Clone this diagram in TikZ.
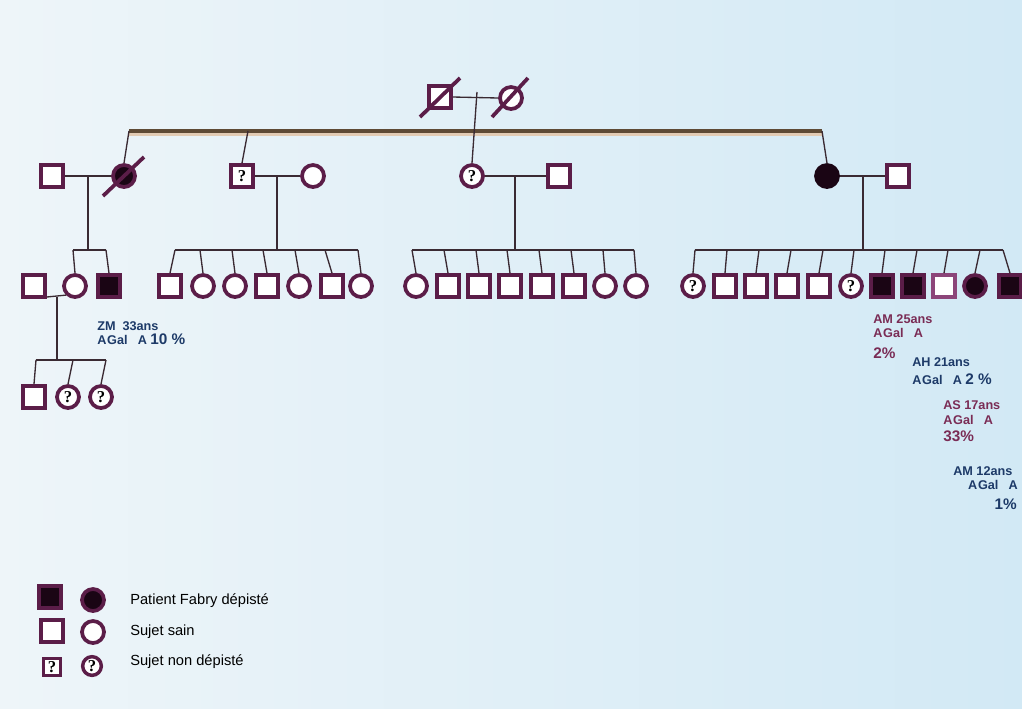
\documentclass[tikz,border=0pt]{standalone}
\usepackage{fontspec}
\setmainfont{Liberation Sans}
\newfontfamily\qfont{Liberation Serif}
\definecolor{plum}{HTML}{5B1D48}
\definecolor{plumlight}{HTML}{8C4579}
\definecolor{ink}{HTML}{1A0514}
\definecolor{linecol}{HTML}{3A2A33}
\definecolor{bar}{HTML}{5E4A35}
\definecolor{barshade}{HTML}{E2CBB4}
\definecolor{navy}{HTML}{1D3A68}
\definecolor{wine}{HTML}{7A2C55}
\definecolor{bgleft}{HTML}{EEF5F9}
\definecolor{bgmid}{HTML}{FAFCFD}
\definecolor{bgright}{HTML}{D2E9F5}
\newcommand\bigpct[1]{{\fontsize{11.5}{13}\selectfont #1}}
\newcommand\agal{A\kern0.6pt Gal\hspace{0.8em}A}
\tikzset{
  person/.style={draw=plum, line width=2.8pt, fill=white, inner sep=0pt, minimum size=16.5pt},
  male/.style={person, rectangle},
  female/.style={person, circle},
  fmale/.style={male, fill=ink},
  ffemale/.style={female, fill=ink},
  lmale/.style={male, draw=plumlight},
  qmark/.style={font=\qfont\bfseries\fontsize{12.5}{12.5}\selectfont, inner sep=0pt, text=black},
  qmale/.style={male, label={[qmark]center:?}},
  qfemale/.style={female, label={[qmark]center:?}},
  link/.style={draw=linecol, line width=1pt},
  slash/.style={draw=plum, line width=2.8pt},
  info/.style={font=\bfseries\fontsize{9.5}{11}\selectfont, anchor=base west, inner sep=0pt},
  legtext/.style={font=\fontsize{11}{13}\selectfont, anchor=base west, inner sep=0pt},
}
\begin{document}
\begin{tikzpicture}[x=0.75pt, y=-0.75pt]
  \useasboundingbox (0,0) rectangle (1022,708);
  \clip (0,0) rectangle (1022,708);
  \shade[left color=bgleft, middle color=bgmid, right color=bgright] (0,0) rectangle (1022,708);

  % generation I
  \node[male] (I1) at (440,97) {};
  \node[female] (I2) at (511,98) {};
  \coordinate (m1) at (477,92);

  % generation II
  \node[male] (II1) at (52,176) {};
  \node[ffemale] (II2) at (124,176) {};
  \node[qmale] (II3) at (242,176) {};
  \node[female] (II4) at (313,176) {};
  \node[qfemale] (II5) at (472,176) {};
  \node[male] (II6) at (559,176) {};
  \node[ffemale, draw=ink] (II7) at (827,176) {};
  \node[male] (II8) at (898,176) {};

  % sibship of generation II
  \coordinate (s1a) at (129,131);
  \coordinate (s1b) at (248,131);
  \coordinate (s1c) at (822,131);
  \draw[barshade, line width=2pt] ([yshift=-2.6pt]s1a) -- ([yshift=-2.6pt]s1c);
  \draw[bar, line width=2.6pt] (s1a) -- (s1c);
  \draw[link] (m1) -- (II5.north);
  \draw[link] (s1a) -- (II2.north);
  \draw[link] (s1b) -- (II3.north);
  \draw[link] (s1c) -- (II7.north);

  % couples of generation II
  \draw[link] (I1.east) -- (I2.west);
  \foreach \a/\b/\x in {II1/II2/88, II3/II4/277, II5/II6/515, II7/II8/863} {
    \draw[link] (\a.east) -- (\b.west);
    \draw[link] (\x,176) -- (\x,250);
  }

  % family A
  \node[male] (kAsp) at (34,286) {};
  \foreach \c/\t/\s [count=\i] in {75/73/female, 109/106/fmale} {
    \node[\s] (kA\i) at (\c,286) {};
    \coordinate (kAt\i) at (\t,250);
    \draw[link] (kAt\i) -- (kA\i.north);
  }
  \draw[link] (kAt1) -- (kAt2);

  % family B
  \foreach \c/\t/\s [count=\i] in {170/175/male, 203/200/female, 235/232/female,
      267/263/male, 299/295/female, 332/325/male, 361/358/female} {
    \node[\s] (kB\i) at (\c,286) {};
    \coordinate (kBt\i) at (\t,250);
    \draw[link] (kBt\i) -- (kB\i.north);
  }
  \draw[link] (kBt1) -- (kBt7);

  % family C
  \foreach \c/\t/\s [count=\i] in {416/412/female, 448/444/male, 479/476/male,
      510/507/male, 542/539/male, 574/571/male, 605/603/female, 636/634/female} {
    \node[\s] (kC\i) at (\c,286) {};
    \coordinate (kCt\i) at (\t,250);
    \draw[link] (kCt\i) -- (kC\i.north);
  }
  \draw[link] (kCt1) -- (kCt8);

  % family D
  \foreach \c/\t/\s [count=\i] in {693/695/qfemale, 725/727/male, 756/759/male,
      787/791/male, 819/823/male, 851/854/qfemale, 882/885/fmale, 913/917/fmale,
      944/948/lmale, 975/980/ffemale, 1010/1003/fmale} {
    \node[\s] (kD\i) at (\c,286) {};
    \coordinate (kDt\i) at (\t,250);
    \draw[link] (kDt\i) -- (kD\i.north);
  }
  \draw[link] (kDt1) -- (kDt11);

  % generation IV
  \coordinate (mA) at (57,297);
  \draw[link] (kAsp.east |- mA) -- (kA1.south west);
  \draw[link] (mA) -- (57,360);
  \foreach \c/\t/\s [count=\i] in {34/36/male, 68/73/qfemale, 101/106/qfemale} {
    \node[\s] (kE\i) at (\c,397) {};
    \coordinate (kEt\i) at (\t,360);
    \draw[link] (kEt\i) -- (kE\i.north);
  }
  \draw[link] (kEt1) -- (kEt3);

  % deceased
  \draw[slash] (420,117) -- (460,78);
  \draw[slash] (492,117) -- (528,78);
  \draw[slash] (103,196) -- (144,157);

  % results
  \node[info, text=navy] (tZM) at (97,330) {ZM\ \ 33ans};
  \node[info, text=navy] (tZMa) at (97,344) {\agal\ \bigpct{10 \%}};
  \node[info, text=wine] (tAM) at (873,323) {AM 25ans};
  \node[info, text=wine] (tAMa) at (873,337) {\agal};
  \node[info, text=wine] (tAMb) at (873,358) {\bigpct{2\%}};
  \node[info, text=navy] (tAH) at (912,366) {AH 21ans};
  \node[info, text=navy] (tAHa) at (912,384) {\agal\ \bigpct{2 \%}};
  \node[info, text=wine] (tAS) at (943,409) {AS 17ans};
  \node[info, text=wine] (tASa) at (943,424) {\agal};
  \node[info, text=wine] (tASb) at (943,441) {\bigpct{33\%}};
  \node[info, text=navy] (tAM2) at (953,475) {AM 12ans};
  \node[info, text=navy, anchor=base east] (tAM2a) at (1018,489) {\agal};
  \node[info, text=navy, anchor=base east] (tAM2b) at (1017,509) {\bigpct{1\%}};

  % legend
  \node[fmale] (lg1) at (50,597) {};
  \node[ffemale] (lg2) at (93,600) {};
  \node[male] (lg3) at (52,631) {};
  \node[female] (lg4) at (93,632) {};
  \node[qmale, minimum size=13pt, line width=2.4pt] (lg5) at (52,667) {};
  \node[qfemale, minimum size=14pt, line width=2.6pt] (lg6) at (92,666) {};
  \node[legtext] (lt1) at (130,604) {Patient Fabry dépisté};
  \node[legtext] (lt2) at (130,635) {Sujet sain};
  \node[legtext] (lt3) at (130,665) {Sujet non dépisté};
\end{tikzpicture}
\end{document}
